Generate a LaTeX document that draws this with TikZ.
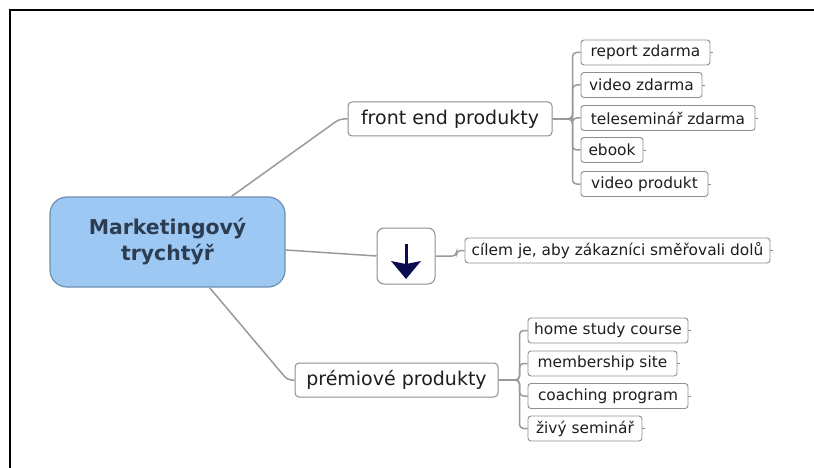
\documentclass[tikz,border=0pt]{standalone}
\usepackage{fontspec}
\setmainfont{DejaVu Sans}
\usetikzlibrary{calc}
\definecolor{cenfill}{HTML}{9DC8F4}
\definecolor{cenline}{HTML}{6F8FB2}
\definecolor{centext}{HTML}{2C3D52}
\definecolor{boxline}{HTML}{8E8E8E}
\definecolor{conncol}{HTML}{9A9A9A}
\definecolor{txt}{HTML}{1E1E1E}
\definecolor{navy}{HTML}{0B0B4F}
\tikzset{
  central/.style={draw=cenline, fill=cenfill, line width=1.2pt, rounded corners=17pt,
    minimum width=235pt, minimum height=90pt, inner sep=0pt, align=center,
    text=centext, font=\fontsize{20.4}{26}\selectfont\bfseries},
  midbox/.style={draw=boxline, fill=white, line width=1pt, rounded corners=4pt,
    minimum height=34pt, inner sep=0pt, text=txt, font=\fontsize{19}{22}\selectfont},
  leaf/.style={draw=boxline, fill=white, line width=0.9pt, rounded corners=3pt,
    minimum height=25pt, inner sep=0pt, text=txt, font=\fontsize{15.4}{18}\selectfont},
  arrbox/.style={draw=boxline, fill=white, line width=1pt, rounded corners=7pt,
    minimum width=58pt, minimum height=56pt, inner sep=0pt},
  conn/.style={draw=conncol, line width=1.5pt, rounded corners=4pt},
  tail/.style={draw=boxline, line width=0.8pt},
  frameline/.style={draw=black, line width=2.5pt}
}
\begin{document}
\begin{tikzpicture}[x=1pt,y=-1pt]
\useasboundingbox (0,0) rectangle (814,468);
\fill[white] (0,0) rectangle (814,468);
\draw[frameline] (10,468) -- (10,10) -- (814,10);

% nodes
\node[central] (cen) at (167.5,242) {Marketingový\\trychtýř};
\node[midbox, minimum width=204pt] (fe) at (450,119) {front end produkty};
\node[midbox, minimum width=203pt] (pp) at (396.5,380) {prémiové produkty};
\node[arrbox] (arr) at (406,256) {};
\node[leaf, minimum width=305pt] (cil) at (617.5,250.5) {cílem je, aby zákazníci směřovali dolů};

\node[leaf, minimum width=129pt] (f1) at (645.5,52.5) {report zdarma};
\node[leaf, minimum width=121pt] (f2) at (641.5,85) {video zdarma};
\node[leaf, minimum width=174pt] (f3) at (668,118) {teleseminář zdarma};
\node[leaf, minimum width=62pt] (f4) at (612,150) {ebook};
\node[leaf, minimum width=127pt] (f5) at (644.5,184) {video produkt};

\node[leaf, minimum width=160pt] (p1) at (608,330.5) {home study course};
\node[leaf, minimum width=149pt] (p2) at (602.5,363.5) {membership site};
\node[leaf, minimum width=160pt] (p3) at (608,396) {coaching program};
\node[leaf, minimum width=114pt] (p4) at (585,428.5) {živý seminář};

% arrow glyph
\draw[navy, line width=3pt] ([yshift=12pt]arr.center) -- ([yshift=-10pt]arr.center);
\fill[navy] ([shift={(-15pt,-5pt)}]arr.center) -- ([yshift=-23pt]arr.center)
  -- ([shift={(15pt,-5pt)}]arr.center) -- ([yshift=-8pt]arr.center) -- cycle;

% main connectors
\draw[conn] ([xshift=64pt]cen.north) -- ([xshift=-8pt]fe.west) -- (fe.west);
\draw[conn] ([yshift=-8pt]cen.east) -- (arr.west);
\draw[conn] ([xshift=42pt]cen.south) -- ([xshift=-7pt]pp.west) -- (pp.west);
\draw[conn] (arr.east) -- ++(21,0) |- (cil.west);
\foreach \c in {f1,f2,f3,f4,f5}{
  \draw[conn] (fe.east) -- ++(20,0) |- (\c.west);
}
\foreach \c in {p1,p2,p3,p4}{
  \draw[conn] (pp.east) -- ++(21,0) |- (\c.west);
}
\foreach \c in {f1,f2,f3,f4,f5,p1,p2,p3,p4,cil}{
  \draw[tail] (\c.east) -- ++(3,0);
}
\end{tikzpicture}
\end{document}
